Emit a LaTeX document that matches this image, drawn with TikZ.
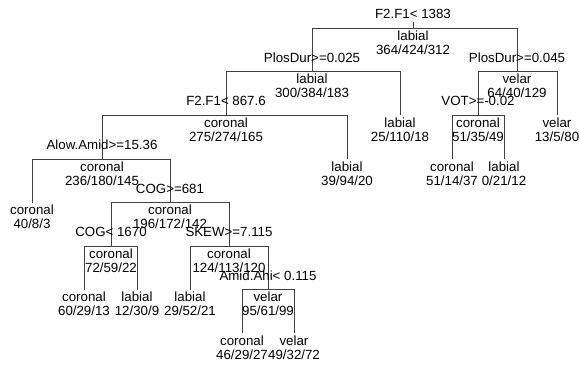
\documentclass[tikz,border=0pt]{standalone}
\usepackage{fontspec}
\setmainfont{Liberation Sans}
\begin{document}
\begin{tikzpicture}[x=1pt,y=-1pt,
  edge/.style={draw=black!75, line width=0.9pt},
  txt/.style={font=\fontsize{13.3}{15}\selectfont, inner sep=0pt, anchor=base}]
\useasboundingbox (0,0) rectangle (580,365);
% node positions (bar centres)
\coordinate (top) at (413,22);
\coordinate (n1) at (413,28);
\coordinate (n2) at (312,71.5);
\coordinate (n3) at (517,71.5);
\coordinate (n4) at (226,115);
\coordinate (n5) at (400,115);
\coordinate (n6) at (478,115);
\coordinate (n7) at (557,115);
\coordinate (n8) at (102,159);
\coordinate (n9) at (347,159);
\coordinate (n12) at (452,159);
\coordinate (n13) at (504,159);
\coordinate (n16) at (32,202.5);
\coordinate (n17) at (170,202.5);
\coordinate (n34) at (111,246);
\coordinate (n35) at (229,246);
\coordinate (n68) at (84,289.5);
\coordinate (n69) at (137,289.5);
\coordinate (n70) at (190,289.5);
\coordinate (n71) at (268,289.5);
\coordinate (n142) at (242,333);
\coordinate (n143) at (294,333);
% connectors
\draw[edge] (top) -- (n1);
\draw[edge] (n1) -| (n2);
\draw[edge] (n1) -| (n3);
\draw[edge] (n2) -| (n4);
\draw[edge] (n2) -| (n5);
\draw[edge] (n3) -| (n6);
\draw[edge] (n3) -| (n7);
\draw[edge] (n4) -| (n8);
\draw[edge] (n4) -| (n9);
\draw[edge] (n6) -| (n12);
\draw[edge] (n6) -| (n13);
\draw[edge] (n8) -| (n16);
\draw[edge] (n8) -| (n17);
\draw[edge] (n17) -| (n34);
\draw[edge] (n17) -| (n35);
\draw[edge] (n34) -| (n68);
\draw[edge] (n34) -| (n69);
\draw[edge] (n35) -| (n70);
\draw[edge] (n35) -| (n71);
\draw[edge] (n71) -| (n142);
\draw[edge] (n71) -| (n143);
% split labels
\node[txt] (s1) at ([yshift=9.5pt]n1) {F2.F1< 1383};
\node[txt] (s2) at ([yshift=9.5pt]n2) {PlosDur>=0.025};
\node[txt] (s3) at ([yshift=9.5pt]n3) {PlosDur>=0.045};
\node[txt] (s4) at ([yshift=9.5pt]n4) {F2.F1< 867.6};
\node[txt] (s6) at ([yshift=9.5pt]n6) {VOT>=-0.02};
\node[txt] (s8) at ([yshift=9.5pt]n8) {Alow.Amid>=15.36};
\node[txt] (s17) at ([yshift=9.5pt]n17) {COG>=681};
\node[txt] (s34) at ([yshift=9.5pt]n34) {COG< 1670};
\node[txt] (s35) at ([yshift=9.5pt]n35) {SKEW>=7.115};
\node[txt] (s71) at ([yshift=9.5pt]n71) {Amid.Ahi< 0.115};
% class labels and counts
\node[txt] (c1) at ([yshift=-12pt]n1) {labial};
\node[txt] (k1) at ([yshift=-26pt]n1) {364/424/312};
\node[txt] (c2) at ([yshift=-12pt]n2) {labial};
\node[txt] (k2) at ([yshift=-26pt]n2) {300/384/183};
\node[txt] (c3) at ([yshift=-12pt]n3) {velar};
\node[txt] (k3) at ([yshift=-26pt]n3) {64/40/129};
\node[txt] (c4) at ([yshift=-12pt]n4) {coronal};
\node[txt] (k4) at ([yshift=-26pt]n4) {275/274/165};
\node[txt] (c5) at ([yshift=-12pt]n5) {labial};
\node[txt] (k5) at ([yshift=-26pt]n5) {25/110/18};
\node[txt] (c6) at ([yshift=-12pt]n6) {coronal};
\node[txt] (k6) at ([yshift=-26pt]n6) {51/35/49};
\node[txt] (c7) at ([yshift=-12pt]n7) {velar};
\node[txt] (k7) at ([yshift=-26pt]n7) {13/5/80};
\node[txt] (c8) at ([yshift=-12pt]n8) {coronal};
\node[txt] (k8) at ([yshift=-26pt]n8) {236/180/145};
\node[txt] (c9) at ([yshift=-12pt]n9) {labial};
\node[txt] (k9) at ([yshift=-26pt]n9) {39/94/20};
\node[txt] (c12) at ([yshift=-12pt]n12) {coronal};
\node[txt] (k12) at ([yshift=-26pt]n12) {51/14/37};
\node[txt] (c13) at ([yshift=-12pt]n13) {labial};
\node[txt] (k13) at ([yshift=-26pt]n13) {0/21/12};
\node[txt] (c16) at ([yshift=-12pt]n16) {coronal};
\node[txt] (k16) at ([yshift=-26pt]n16) {40/8/3};
\node[txt] (c17) at ([yshift=-12pt]n17) {coronal};
\node[txt] (k17) at ([yshift=-26pt]n17) {196/172/142};
\node[txt] (c34) at ([yshift=-12pt]n34) {coronal};
\node[txt] (k34) at ([yshift=-26pt]n34) {72/59/22};
\node[txt] (c35) at ([yshift=-12pt]n35) {coronal};
\node[txt] (k35) at ([yshift=-26pt]n35) {124/113/120};
\node[txt] (c68) at ([yshift=-12pt]n68) {coronal};
\node[txt] (k68) at ([yshift=-26pt]n68) {60/29/13};
\node[txt] (c69) at ([yshift=-12pt]n69) {labial};
\node[txt] (k69) at ([yshift=-26pt]n69) {12/30/9};
\node[txt] (c70) at ([yshift=-12pt]n70) {labial};
\node[txt] (k70) at ([yshift=-26pt]n70) {29/52/21};
\node[txt] (c71) at ([yshift=-12pt]n71) {velar};
\node[txt] (k71) at ([yshift=-26pt]n71) {95/61/99};
\node[txt] (c142) at ([yshift=-12pt]n142) {coronal};
\node[txt] (k142) at ([yshift=-26pt]n142) {46/29/27};
\node[txt] (c143) at ([yshift=-12pt]n143) {velar};
\node[txt] (k143) at ([yshift=-26pt]n143) {49/32/72};
\end{tikzpicture}
\end{document}
